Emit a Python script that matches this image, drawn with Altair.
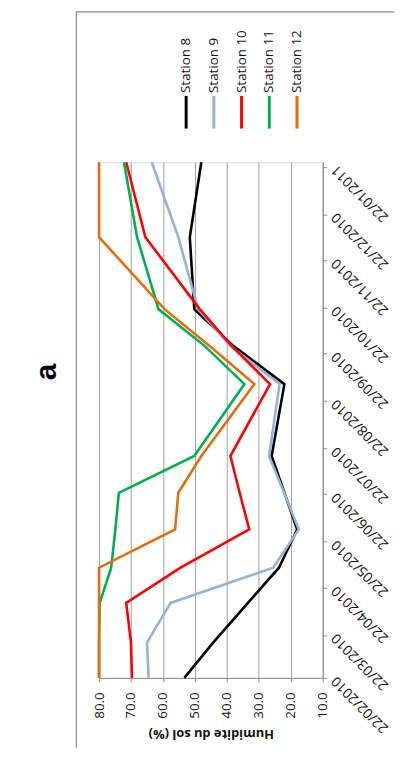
import altair as alt
import pandas as pd

# ---- data ----
dates = ["2010-02-22", "2010-03-17", "2010-04-12", "2010-05-05", "2010-05-30",
         "2010-06-23", "2010-07-17", "2010-09-02", "2010-09-27", "2010-10-21",
         "2010-12-07", "2011-01-25"]
stations = ["Station 8", "Station 9", "Station 10", "Station 11", "Station 12"]
colors = ["#000000", "#95b3d7", "#ff0000", "#00b050", "#e46c0a"]
s8 = [53.3, 44.3, 33.4, 23.7, 18.0, 22.0, 26.0, 22.0, 38.0, 50.2, 51.6, 48.0]
s9 = [64.5, 65.0, 57.6, 25.5, 17.5, 22.1, 26.8, 23.5, 39.0, 49.0, 55.2, 63.5]
s10 = [69.7, 70.0, 71.5, 54.5, 33.0, 36.0, 38.9, 26.5, 38.5, 48.5, 65.5, 71.5]
s11 = [80.0, 80.0, 79.8, 76.2, 74.9, 73.8, 50.2, 34.5, 47.0, 61.4, 68.1, 72.2]
s12 = [80.0, 80.0, 80.0, 80.0, 56.2, 55.2, 48.0, 31.4, 45.5, 59.5, 80.0, 80.0]
series = [s8, s9, s10, s11, s12]
tick_months = [(2010, m) for m in range(2, 13)] + [(2011, 1)]
value_ticks = [10, 20, 30, 40, 50, 60, 70, 80]
title_text = "a"
y_title = "Humidite du sol (%)"

rows = []
for name, vals in zip(stations, series):
    for d, v in zip(dates, vals):
        rows.append({"station": name, "date": d + "T00:00:00", "value": v})
df = pd.DataFrame(rows)

FONT = "Open Sans"
grey = "#8c8c8c"
FS = 13.5

date_axis_values = [alt.DateTime(year=y, month=m, date=22) for y, m in tick_months]

color_scale = alt.Scale(domain=stations, range=colors)

lines = alt.Chart(df).mark_line(strokeWidth=2.6).encode(
    x=alt.X("value:Q",
            scale=alt.Scale(domain=[10, 80], reverse=True, nice=False, zero=False),
            axis=alt.Axis(values=value_ticks, format=".1f", labelAngle=270,
                          labelAlign="right", labelBaseline="middle",
                          labelPadding=10, tickSize=4, labelOverlap=False,
                          labelFlush=False, grid=True, gridColor="#a0a0a0",
                          gridWidth=1, domainColor=grey, tickColor=grey,
                          labelColor="#111", labelFont=FONT, labelFontSize=FS,
                          title=y_title, titleAngle=180, titleFontWeight="bold",
                          titleFont=FONT, titleFontSize=13, titleColor="#111",
                          titleAlign="center", titleBaseline="middle",
                          titleX=113, titleY=56)),
    y=alt.Y("date:T",
            scale=alt.Scale(domain=[alt.DateTime(year=2010, month=2, date=22),
                                    alt.DateTime(year=2011, month=1, date=25)],
                            nice=False),
            axis=alt.Axis(orient="right", values=date_axis_values,
                          format="%d/%m/%Y", labelAngle=225, labelAlign="right",
                          labelBaseline="middle", labelPadding=7, tickSize=4,
                          labelOverlap=False, labelFlush=False, grid=False,
                          domainColor=grey, tickColor=grey, labelColor="#111",
                          labelFont=FONT, labelFontSize=14, title=None)),
    color=alt.Color("station:N", scale=color_scale, legend=None),
    order=alt.Order("date:T"),
)

leg_df = pd.DataFrame({"station": stations})
leg_x = alt.X("station:N", sort=stations,
              scale=alt.Scale(type="point", domain=stations, range=[88, 200], padding=0),
              axis=None)
leg_rules = alt.Chart(leg_df).mark_rule(strokeWidth=3).encode(
    x=leg_x, y=alt.value(-67), y2=alt.value(-34),
    color=alt.Color("station:N", scale=color_scale, legend=None),
)
leg_text = alt.Chart(leg_df).mark_text(angle=270, align="left", baseline="middle",
                                       font=FONT, fontSize=FS, color="#111").encode(
    x=leg_x, y=alt.value(-70), text="station:N",
)

frame = alt.Chart(pd.DataFrame({"k": [0]})).mark_rect(
    fillOpacity=0, stroke=grey, strokeWidth=1.2).encode(
    x=alt.value(-23), x2=alt.value(400), y=alt.value(-152), y2=alt.value(700))

title = alt.Chart(pd.DataFrame({"t": [title_text]})).mark_text(
    angle=270, align="center", baseline="middle", font="Liberation Sans",
    fontWeight="bold", fontSize=30, color="#000").encode(
    x=alt.value(-53), y=alt.value(212), text="t:N")

chart = alt.layer(frame, title, lines, leg_rules, leg_text).resolve_scale(
    x="independent"
).properties(
    width=226, height=521,
    autosize=alt.AutoSizeParams(type="none"),
    padding={"left": 92, "top": 152, "right": 72, "bottom": 67},
).configure_view(stroke=None).configure(background="white")

chart.save("out.html", embed_options={"renderer": "svg", "actions": False})
